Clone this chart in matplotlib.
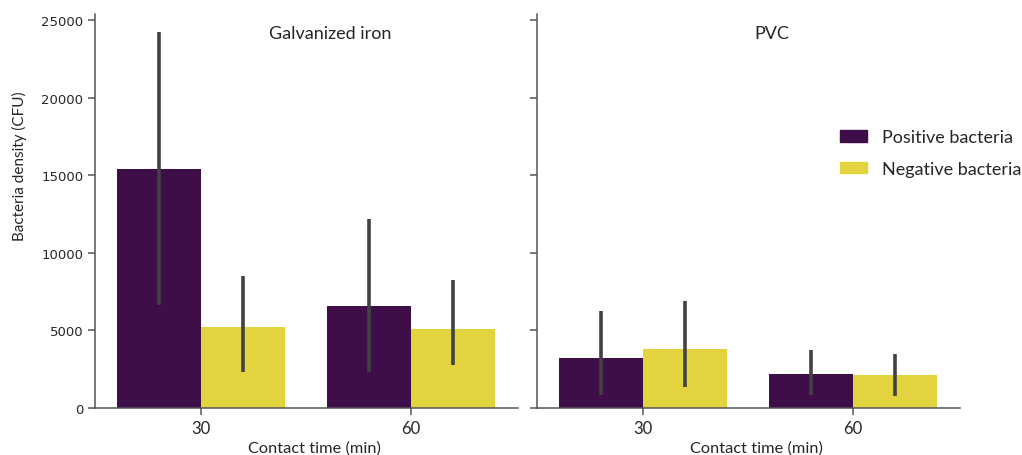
import numpy as np
import matplotlib
matplotlib.use("Agg")
import matplotlib.pyplot as plt
from matplotlib.patches import Patch

# contact times (min)
times = ["30", "60"]

# Galvanized iron: mean and CI bounds
gi_pos = [15420, 6570]
gi_pos_lo = [6610, 2320]
gi_pos_hi = [24230, 12200]
gi_neg = [5220, 5070]
gi_neg_lo = [2320, 2750]
gi_neg_hi = [8510, 8220]

# PVC
pvc_pos = [3220, 2210]
pvc_pos_lo = [860, 860]
pvc_pos_hi = [6250, 3710]
pvc_neg = [3780, 2100]
pvc_neg_lo = [1350, 750]
pvc_neg_hi = [6870, 3500]

series_names = ["Positive bacteria", "Negative bacteria"]
col_pos = "#3f0d47"
col_neg = "#e2d33f"
err_col = "#424242"
txt_col = "#262626"
label_font = ["Lato", "DejaVu Sans"]

fig = plt.figure(figsize=(10.22, 4.56), dpi=100)
ax1 = fig.add_axes([95 / 1022, 47 / 456, 423 / 1022, 394 / 456])
ax2 = fig.add_axes([537 / 1022, 47 / 456, 423 / 1022, 394 / 456], sharey=ax1)


def draw_panel(ax, pos, pos_lo, pos_hi, neg, neg_lo, neg_hi, title):
    x = np.arange(len(times))
    w = 0.4
    ax.bar(x - w / 2, pos, width=w, color=col_pos)
    ax.bar(x + w / 2, neg, width=w, color=col_neg)
    ax.vlines(x - w / 2, pos_lo, pos_hi, color=err_col, lw=2.6)
    ax.vlines(x + w / 2, neg_lo, neg_hi, color=err_col, lw=2.6)
    ax.set_xticks(x)
    ax.set_xticklabels(times, fontsize=12, color=txt_col, family=label_font)
    ax.set_xlim(-0.505, 1.51)
    ax.set_xlabel("Contact time (min)", fontsize=11.8, color=txt_col,
                  family=label_font)
    ax.xaxis.set_label_coords(0.519, -0.082)
    ax.xaxis.label.set_va("top")
    ax.text(0.556, 0.953, title, transform=ax.transAxes, ha="center",
            va="center", fontsize=13, color=txt_col, family=label_font)
    for s in ["top", "right"]:
        ax.spines[s].set_visible(False)
    for s in ["left", "bottom"]:
        ax.spines[s].set_color("#555555")
        ax.spines[s].set_linewidth(1.1)
    ax.tick_params(color="#555555", length=5, width=1.1, labelsize=9.5,
                   labelcolor=txt_col)
    ax.tick_params(axis="x", labelsize=12)


draw_panel(ax1, gi_pos, gi_pos_lo, gi_pos_hi, gi_neg, gi_neg_lo, gi_neg_hi,
           "Galvanized iron")
draw_panel(ax2, pvc_pos, pvc_pos_lo, pvc_pos_hi, pvc_neg, pvc_neg_lo,
           pvc_neg_hi, "PVC")

ax1.set_ylim(0, 25400)
ax1.set_yticks([0, 5000, 10000, 15000, 20000, 25000])
ax1.set_ylabel("Bacteria density (CFU)", fontsize=11, color=txt_col,
               family=label_font)
ax1.yaxis.set_label_coords(-0.161, 0.617)
plt.setp(ax2.get_yticklabels(), visible=False)

handles = [Patch(color=col_pos), Patch(color=col_neg)]
fig.legend(handles, series_names, loc="upper left",
           bbox_to_anchor=(824 / 1022, 1 - 114 / 456), frameon=False,
           prop={"family": label_font, "size": 13}, labelcolor=txt_col,
           handlelength=1.5, handleheight=0.6, handletextpad=0.8,
           labelspacing=0.85)

fig.savefig("out.png", dpi=100)
